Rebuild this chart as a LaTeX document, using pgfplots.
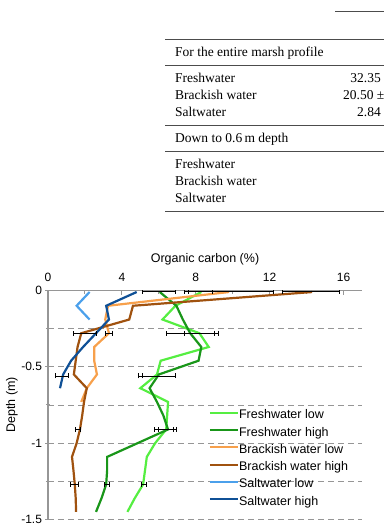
\documentclass[border=0pt]{standalone}
\usepackage{fontspec}
\setmainfont{Liberation Serif}
\newfontfamily\chartfont{Liberation Sans}
\usepackage{pgfplots}
\pgfplotsset{compat=1.18}
\definecolor{fwlow}{RGB}{85,238,65}
\definecolor{fwhigh}{RGB}{25,150,25}
\definecolor{brlow}{RGB}{247,160,75}
\definecolor{brhigh}{RGB}{160,82,15}
\definecolor{swlow}{RGB}{75,160,235}
\definecolor{swhigh}{RGB}{15,80,150}
\definecolor{axgray}{RGB}{150,150,150}
\begin{document}
\begin{tikzpicture}
\def\tfont{\fontsize{13.5}{16}\selectfont}
\begin{axis}[
  anchor=south west,
  width=314pt, height=229pt, scale only axis,
  xmin=0, xmax=17, ymin=-1.5, ymax=0,
  axis x line*=top, axis y line*=left,
  axis line style={axgray, line width=1.4pt},
  xtick={0,4,8,12,16}, xticklabels={0,4,8,12,16}, minor x tick num=1,
  ytick={-1.5,-1,-0.5,0}, yticklabels={-1.5,-1,-0.5,0}, minor y tick num=1,
  xtick align=inside, ytick align=center,
  major tick length=5pt, minor tick length=4pt,
  tick style={axgray, line width=1pt},
  ymajorgrids, yminorgrids,
  grid style={axgray, line width=0.9pt, dash pattern=on 6pt off 4pt},
  tick label style={font=\chartfont\fontsize{12}{14}\selectfont},
  label style={font=\chartfont\fontsize{12.5}{15}\selectfont},
  xticklabel style={yshift=5pt},
  xlabel={Organic carbon (\%)}, ylabel={Depth (m)},
  xlabel style={at={(axis description cs:0.5,1)}, anchor=base, yshift=28pt},
  ylabel style={at={(axis description cs:0,0.5)}, anchor=center, yshift=36pt},
  legend style={draw=none, fill=none, at={(axis cs:8.7,-0.78)}, anchor=north west,
    font=\chartfont\fontsize{12.5}{15}\selectfont, inner sep=0pt, row sep=5.3pt,
    nodes={inner sep=0pt, text height=9pt, text depth=3pt}},
  legend cell align=left,
  legend image code/.code={\draw[#1, line width=2.2pt] (0pt,3pt) -- (28pt,3pt);},
  every axis plot/.append style={line width=2.2pt, mark=none},
]
\addplot[fwlow] coordinates {(8.3,-0.01)(6.9,-0.10)(6.2,-0.19)(8.2,-0.28)(8.7,-0.37)(6.1,-0.46)(5.9,-0.55)(5.0,-0.64)(6.5,-0.73)(6.45,-0.82)(6.4,-0.91)(5.8,-1.00)(5.35,-1.09)(5.25,-1.18)(5.15,-1.27)(4.7,-1.36)(4.3,-1.45)};
\addlegendentry{Freshwater low}
\addplot[fwhigh] coordinates {(6.05,-0.01)(6.95,-0.10)(7.3,-0.19)(7.7,-0.28)(8.3,-0.37)(8.15,-0.46)(6.0,-0.55)(5.5,-0.64)(5.9,-0.73)(6.25,-0.82)(6.5,-0.91)(4.85,-1.00)(3.2,-1.09)(3.2,-1.18)(3.15,-1.27)(2.9,-1.36)(2.6,-1.45)};
\addlegendentry{Freshwater high}
\addplot[brlow] coordinates {(9.8,-0.01)(3.25,-0.10)(3.1,-0.19)(3.3,-0.28)(2.5,-0.37)(2.5,-0.46)(2.65,-0.55)(2.1,-0.64)(1.8,-0.73)};
\addlegendentry{Brackish water low}
\addplot[brhigh] coordinates {(14.3,-0.01)(4.6,-0.10)(4.4,-0.19)(1.8,-0.28)(1.6,-0.37)(1.5,-0.46)(1.4,-0.55)(2.1,-0.64)(1.95,-0.73)(1.85,-0.82)(1.73,-0.91)(1.55,-1.00)(1.3,-1.09)(1.38,-1.18)(1.45,-1.27)(1.5,-1.36)(1.52,-1.45)};
\addlegendentry{Brackish water high}
\addplot[swlow] coordinates {(2.25,-0.01)(1.55,-0.10)(2.25,-0.19)};
\addlegendentry{Saltwater low}
\addplot[swhigh] coordinates {(4.8,-0.01)(3.15,-0.10)(3.3,-0.19)(2.6,-0.28)(1.9,-0.37)(1.25,-0.46)(0.82,-0.55)(0.65,-0.64)};
\addlegendentry{Saltwater high}
\addplot[draw=none, forget plot, error bars/.cd, x dir=both, x explicit,
  error mark=|,
  error bar style={black, line width=0.7pt},
  error mark options={black, line width=0.7pt, mark size=2.5pt}]
  coordinates {
  (8.25,-0.005) +- (0.65,0)
  (6.0,-0.005) +- (0.9,0)
  (9.8,-0.005) +- (2.4,0)
  (14.25,-0.005) +- (1.55,0)
  (7.8,-0.28) +- (1.4,0)
  (8.2,-0.28) +- (0.8,0)
  (2.0,-0.28) +- (0.63,0)
  (3.3,-0.28) +- (0.2,0)
  (0.75,-0.56) +- (0.37,0)
  (5.9,-0.56) +- (1.0,0)
  (6.0,-0.56) +- (0.9,0)
  (1.6,-0.91) +- (0.14,0)
  (6.36,-0.91) +- (0.4,0)
  (6.36,-0.91) +- (0.6,0)
  (1.42,-1.27) +- (0.22,0)
  (3.17,-1.27) +- (0.14,0)
  (5.17,-1.27) +- (0.14,0)
  };
\end{axis}
\begin{scope}[x=1pt,y=1pt,shift={(-48pt,-5pt)}]
\draw[line width=0.9pt, black!70] (335,513) -- (384,513);
\foreach \yy in {485,459,399,373,313} {\draw[line width=0.9pt, black!70] (165,\yy) -- (384,\yy);}
\begin{scope}[every node/.style={inner sep=0pt, anchor=base west, font=\tfont}]
\node at (175,468.2) {For the entire marsh profile};
\node at (175,442.2) {Freshwater};
\node at (175,424.8) {Brackish water};
\node at (175,408.2) {Saltwater};
\node at (175,382.2) {Down to 0.6\,m depth};
\node at (175,355.8) {Freshwater};
\node at (175,338.8) {Brackish water};
\node at (175,322.2) {Saltwater};
\node[anchor=base east] at (381,442.2) {32.35};
\node at (343,424.8) {20.50 ±};
\node[anchor=base east] at (381,408.2) {2.84};
\end{scope}
\pgfresetboundingbox
\path[use as bounding box] (0,-1.5) rectangle (384,524.5);
\end{scope}
\end{tikzpicture}
\end{document}
